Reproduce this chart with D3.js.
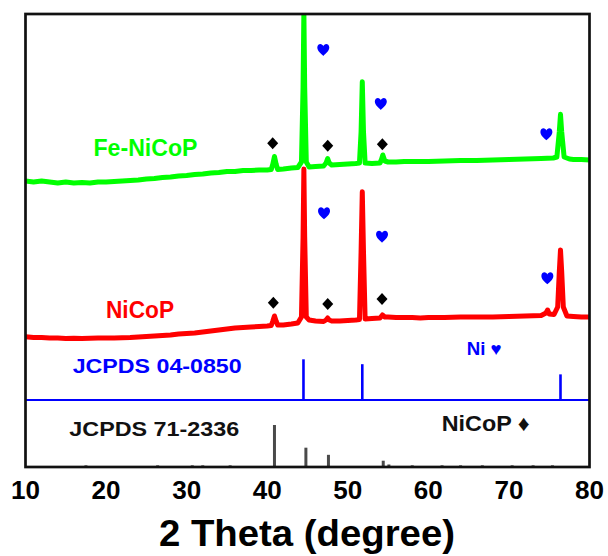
<!DOCTYPE html>
<html>
<head>
<meta charset="utf-8">
<script src="https://cdn.jsdelivr.net/npm/d3@7"></script>
<style>
    body { margin: 0; background: #fff; }
    svg { display: block; }
    text { font-family: 'Liberation Sans', Arial, sans-serif; font-weight: bold; }
</style>
</head>
<body>
<div id="xrd-chart"></div>
<script>
// 2 theta / intensity (a.u., patterns already stacked)
const feNiCoP = [
    [10, 286], [11, 285], [12, 286], [13, 285], [14, 284], [15, 285], [16, 284], [17, 284.5],
    [18, 284], [19, 285], [20, 285], [21, 285.5], [22, 286], [23, 286.5], [24, 287], [25, 288],
    [26, 288.5], [27, 289.5], [28, 290], [29, 291], [30, 291.5], [31, 292.5], [32, 293], [33, 294],
    [34, 294.5], [35, 295.5], [36, 295.5], [37, 296.5], [38, 296.5], [39, 297], [40, 297],
    [40.5, 297.5], [40.7, 303], [40.9, 310.5], [41.1, 303], [41.3, 297.5], [42, 298], [43, 299],
    [43.8, 299.5], [44.25, 305], [44.45, 380], [44.55, 455], [44.65, 380], [44.85, 305], [45.2, 300],
    [46, 300.5], [47, 301], [47.3, 304], [47.5, 308.5], [47.7, 304], [48, 302], [49, 302.5],
    [50, 303], [51, 303.5], [51.45, 304], [51.65, 335], [51.8, 385.3], [51.95, 335], [52.15, 304],
    [53, 303.5], [54, 304], [54.2, 308], [54.35, 312], [54.6, 306], [55, 305], [56, 305],
    [57, 305.5], [58, 305.5], [59, 305.5], [60, 305.5], [62, 306], [64, 306.5], [66, 306.5],
    [68, 307], [70, 307.5], [72, 308], [74, 308.5], [75.5, 309], [75.95, 310], [76.25, 335],
    [76.4, 352.7], [76.55, 335], [76.85, 310], [77.5, 308], [78, 307.5], [79, 307.5], [80, 307]
];

const niCoP = [
    [10, 130.3], [11, 129.5], [12, 129.5], [13, 129], [14, 129], [15, 128.5], [16, 128.7], [17, 128.5],
    [18, 128.7], [19, 129], [20, 129], [21, 129], [22, 129.3], [23, 129.5], [24, 130], [25, 130.5],
    [26, 131], [27, 131.5], [28, 132], [29, 133], [30, 133.5], [31, 134], [32, 135], [33, 136],
    [34, 137], [35, 138], [36, 139], [37, 139.5], [38, 140], [39, 140.5], [40, 141],
    [40.5, 141.5], [40.7, 146], [40.9, 151], [41.1, 146], [41.3, 142], [42, 142], [43, 143],
    [43.8, 144], [44.25, 150], [44.45, 230], [44.55, 298], [44.65, 230], [44.85, 150], [45.2, 147],
    [46, 146], [47, 145.5], [47.3, 147], [47.5, 149], [47.7, 147], [48, 146], [49, 146],
    [50, 146.5], [51, 147], [51.45, 147.5], [51.65, 215], [51.8, 275.3], [51.95, 215], [52.15, 148],
    [53, 148.5], [54, 149], [54.3, 152], [54.6, 150], [55, 150], [56, 149.5], [57, 149.5],
    [58, 149.5], [59, 149], [60, 149.5], [62, 149.5], [64, 150], [66, 150], [68, 150],
    [70, 150.5], [72, 151], [74, 151.5], [74.6, 154], [74.8, 157], [75.0, 153], [75.6, 152.5],
    [76.05, 160], [76.25, 195], [76.4, 217], [76.55, 195], [76.75, 160], [77.2, 151], [78, 150.5],
    [79, 150], [80, 150]
];

// reference cards: 2 theta / relative intensity
const niRefAngles = [44.5, 51.8, 76.4];
const niRefIntensity = [100, 88, 63];
const nicopRefAngles = [17.5, 26.4, 30.7, 32.0, 35.4, 40.9, 44.8, 47.6, 54.4, 55.1, 58.0, 61.7, 64.0, 66.7, 70.4, 73.0, 75.4];
const nicopRefIntensity = [4, 4, 4, 4, 4, 100, 46, 29, 15, 6, 4, 4, 4, 4, 4, 4, 4];

// peak markers: 2 theta / intensity (a.u.)
const heartMarks = [[46.96, 417], [54.1, 363], [74.65, 332.7], [47.05, 253.7], [54.25, 230.3], [74.77, 188.7]];
const diamondMarks = [[40.68, 323.7], [47.51, 321.3], [54.29, 322.7], [40.76, 164.3], [47.51, 163], [54.25, 168]];

const xTicks = [10, 20, 30, 40, 50, 60, 70, 80];

function createXrdChart() {
    const width = 608;
    const height = 556;
    const left = 25.5, right = 589.5, top = 14, bottom = 467;
    const refLine = 400;

    const svg = d3.select('#xrd-chart')
        .append('svg')
        .attr('width', width)
        .attr('height', height);

    const x = d3.scaleLinear().domain([10, 80]).range([left, right]);
    const y = d3.scaleLinear().domain([0, 453]).range([bottom, top]);
    const yNi = d3.scaleLinear().domain([0, 100]).range([refLine, 359.3]);
    const yNiCoP = d3.scaleLinear().domain([0, 100]).range([bottom, 425]);

    svg.append('clipPath')
        .attr('id', 'plot-clip')
        .append('rect')
        .attr('x', left).attr('y', top)
        .attr('width', right - left).attr('height', bottom - top);

    const line = d3.line()
        .x(d => x(d[0]))
        .y(d => y(d[1]));

    const traces = svg.append('g').attr('clip-path', 'url(#plot-clip)');

    traces.append('path')
        .datum(niCoP)
        .attr('d', line)
        .attr('fill', 'none')
        .attr('stroke', '#ff0000')
        .attr('stroke-width', 5)
        .attr('stroke-linejoin', 'round');

    traces.append('path')
        .datum(feNiCoP)
        .attr('d', line)
        .attr('fill', 'none')
        .attr('stroke', '#00ff00')
        .attr('stroke-width', 5)
        .attr('stroke-linejoin', 'round');

    // Ni reference sticks + separator line
    svg.append('line')
        .attr('x1', left).attr('x2', right)
        .attr('y1', refLine).attr('y2', refLine)
        .attr('stroke', '#0000ff')
        .attr('stroke-width', 2.2);

    svg.selectAll('.ni-stick')
        .data(niRefAngles)
        .enter()
        .append('line')
        .attr('class', 'ni-stick')
        .attr('x1', d => x(d)).attr('x2', d => x(d))
        .attr('y1', yNi(0))
        .attr('y2', (d, i) => yNi(niRefIntensity[i]))
        .attr('stroke', '#0000ff')
        .attr('stroke-width', 2.6);

    svg.selectAll('.nicop-stick')
        .data(nicopRefAngles)
        .enter()
        .append('line')
        .attr('class', 'nicop-stick')
        .attr('x1', d => x(d)).attr('x2', d => x(d))
        .attr('y1', yNiCoP(0))
        .attr('y2', (d, i) => yNiCoP(nicopRefIntensity[i]))
        .attr('stroke', '#4a4a4a')
        .attr('stroke-width', 3);

    // markers
    const heart = 'M0,6 C-2,3.8 -6,1.2 -6,-2.4 C-6,-5 -4.2,-6 -3,-6 C-1.6,-6 -0.5,-5 0,-3.8 C0.5,-5 1.6,-6 3,-6 C4.2,-6 6,-5 6,-2.4 C6,1.2 2,3.8 0,6 Z';
    const diamond = 'M0,-6 L5.5,0 L0,6 L-5.5,0 Z';

    svg.selectAll('.heart')
        .data(heartMarks)
        .enter()
        .append('path')
        .attr('class', 'heart')
        .attr('d', heart)
        .attr('transform', d => `translate(${x(d[0])}, ${y(d[1])})`)
        .attr('fill', '#0000ff');

    svg.selectAll('.diamond')
        .data(diamondMarks)
        .enter()
        .append('path')
        .attr('class', 'diamond')
        .attr('d', diamond)
        .attr('transform', d => `translate(${x(d[0])}, ${y(d[1])})`)
        .attr('fill', '#000');

    // frame
    svg.append('rect')
        .attr('x', left).attr('y', top)
        .attr('width', right - left).attr('height', bottom - top)
        .attr('fill', 'none')
        .attr('stroke', '#111')
        .attr('stroke-width', 2.7);

    // tick labels
    svg.selectAll('.tick-label')
        .data(xTicks)
        .enter()
        .append('text')
        .attr('class', 'tick-label')
        .attr('x', d => x(d))
        .attr('y', 499)
        .attr('text-anchor', 'middle')
        .attr('textLength', 29)
        .attr('lengthAdjust', 'spacingAndGlyphs')
        .style('font-size', '25px')
        .attr('fill', '#000')
        .text(d => d);

    svg.append('text')
        .attr('x', 307)
        .attr('y', 546)
        .attr('text-anchor', 'middle')
        .attr('textLength', 296)
        .attr('lengthAdjust', 'spacingAndGlyphs')
        .style('font-size', '37px')
        .text('2 Theta (degree)');

    const labels = [
        { text: 'Fe-NiCoP', x: 93.5, y: 155.7, size: 23, w: 104, color: '#00ff00' },
        { text: 'NiCoP', x: 106, y: 318.3, size: 23, w: 68, color: '#ff0000' },
        { text: 'JCPDS 04-0850', x: 72.7, y: 373.3, size: 21, w: 169, color: '#0000ff' },
        { text: 'Ni ♥', x: 466.7, y: 355, size: 18, w: 35, color: '#0000ff' },
        { text: 'JCPDS 71-2336', x: 69.3, y: 436, size: 20.5, w: 170, color: '#111' },
        { text: 'NiCoP ♦', x: 441.7, y: 430.7, size: 22, w: 88, color: '#111' }
    ];

    svg.selectAll('.label')
        .data(labels)
        .enter()
        .append('text')
        .attr('class', 'label')
        .attr('x', d => d.x)
        .attr('y', d => d.y)
        .attr('textLength', d => d.w)
        .attr('lengthAdjust', 'spacingAndGlyphs')
        .style('font-size', d => d.size + 'px')
        .attr('fill', d => d.color)
        .text(d => d.text);
}

createXrdChart();
</script>
</body>
</html>
